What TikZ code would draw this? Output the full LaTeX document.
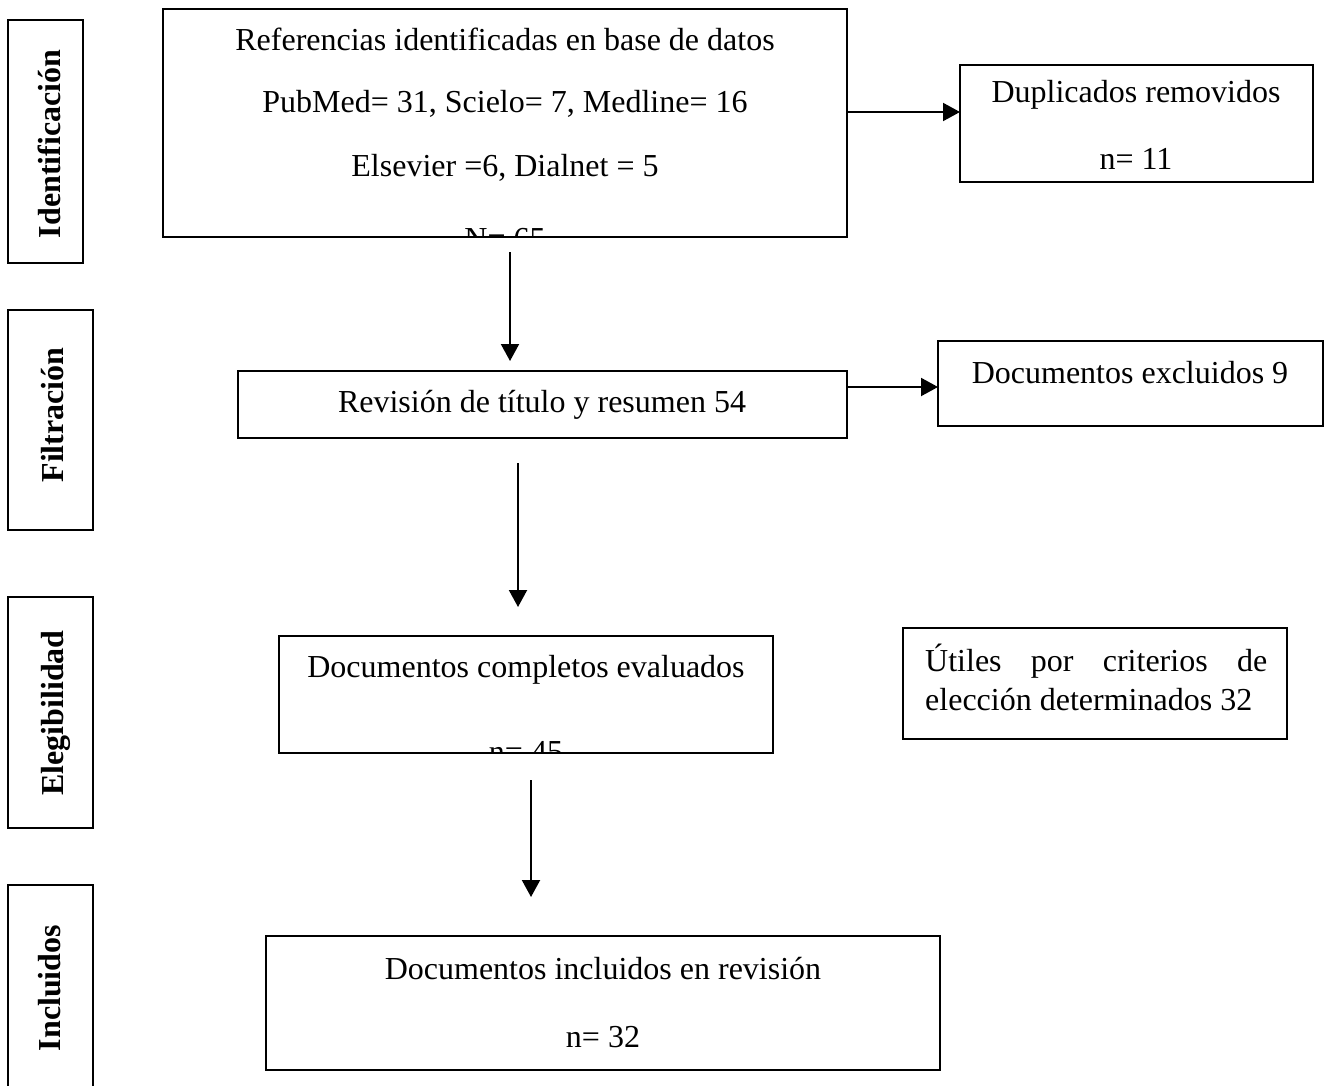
\documentclass[tikz,border=0pt]{standalone}
\usepackage{fontspec}
\setmainfont{Liberation Serif}
\usetikzlibrary{arrows.meta,fit}
\begin{document}
\begin{tikzpicture}[x=1pt,y=-1pt,
  box/.style={draw, line width=2.4pt, inner sep=0pt, outer sep=0pt},
  txt/.style={font=\fontsize{32}{39}\selectfont, anchor=base, inner sep=0pt},
  lab/.style={font=\fontsize{32}{39}\selectfont\bfseries, anchor=base, rotate=90, inner sep=0pt},
  arr/.style={line width=2pt, -{Triangle[length=17pt,width=18pt]}}]
\clip (0,0) rectangle (1327,1086);
\fill[white] (0,0) rectangle (1327,1086);
% stage labels
\node[box, fit={(8,20) (83,263)}] (lid) {};
\node[lab] (tid) at (60,144) {Identificación};
\node[box, fit={(8,310) (93,530)}] (lfi) {};
\node[lab] (tfi) at (63,415) {Filtración};
\node[box, fit={(8,597) (93,828)}] (lel) {};
\node[lab] (tel) at (63,713) {Elegibilidad};
\node[box, fit={(8,885) (93,1110)}] (lin) {};
\node[lab] (tin) at (60,988) {Incluidos};
% box 1
\node[box, fit={(163,9) (847,237)}] (box1) {};
\node[txt] (t1a) at (505,51) {Referencias identificadas en base de datos};
\node[txt] (t1b) at (505,113) {PubMed= 31, Scielo= 7, Medline= 16};
\node[txt] (t1c) at (505,177) {Elsevier =6, Dialnet = 5};
\begin{scope}
\clip (box1.south west) rectangle (box1.north east);
\node[txt] (t1d) at (505,249) {N= 65};
\end{scope}
% duplicados
\node[box, fit={(960,65) (1313,182)}] (dup) {};
\node[txt] (tda) at (1136,103) {Duplicados removidos};
\node[txt] (tdb) at (1136,170) {n= 11};
% box 2
\node[box, fit={(238,371) (847,438)}] (box2) {};
\node[txt] (t2) at (542,412) {Revisión de título y resumen 54};
% excluidos
\node[box, fit={(938,341) (1323,426)}] (excl) {};
\node[txt] (te) at (1130,383) {Documentos excluidos 9};
% box 3
\node[box, fit={(279,636) (773,753)}] (box3) {};
\node[txt] (t3a) at (526,677) {Documentos completos evaluados};
\begin{scope}
\clip (box3.south west) rectangle (box3.north east);
\node[txt] (t3b) at (526,762) {n= 45};
\end{scope}
% utiles
\node[box, fit={(903,628) (1287,739)}] (util) {};
\node[font=\fontsize{32}{39}\selectfont, anchor=base west, inner sep=0pt] (tu) at (925,671)
  {\parbox[t]{342pt}{\hyphenpenalty=10000\exhyphenpenalty=10000 Útiles por criterios de\linebreak elección determinados 32}};
% box 4
\node[box, fit={(266,936) (940,1070)}] (box4) {};
\node[txt] (t4a) at (603,979) {Documentos incluidos en revisión};
\node[txt] (t4b) at (603,1047) {n= 32};
% arrows
\coordinate (k1) at (510,0);
\coordinate (k2) at (518,0);
\coordinate (k3) at (531,0);
\coordinate (h1) at (0,112);
\coordinate (h2) at (0,387);
\draw[arr, shorten <=15pt, shorten >=10pt] (k1 |- box1.south) -- (k1 |- box2.north);
\draw[arr, shorten <=25pt, shorten >=29pt] (k2 |- box2.south) -- (k2 |- box3.north);
\draw[arr, shorten <=27pt, shorten >=39pt] (k3 |- box3.south) -- (k3 |- box4.north);
\draw[arr] (h1 -| box1.east) -- (h1 -| dup.west);
\draw[arr] (h2 -| box2.east) -- (h2 -| excl.west);
\end{tikzpicture}
\end{document}
